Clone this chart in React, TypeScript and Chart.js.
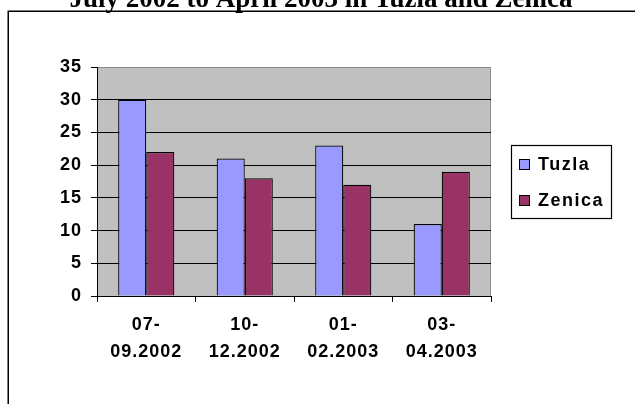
import React, { useEffect, useRef } from "react";
import { Chart, registerables } from "chart.js";

Chart.register(...registerables);

const titleText = "July 2002 to April 2003 in Tuzla and Zenica";
const categories = [
  ["07-", "09.2002"],
  ["10-", "12.2002"],
  ["01-", "02.2003"],
  ["03-", "04.2003"],
];
const seriesNames = ["Tuzla", "Zenica"];
const tuzlaValues = [30, 21, 23, 11];
const zenicaValues = [22, 18, 17, 19];
const seriesColors = ["#9999FF", "#993366"];
const yMin = 0;
const yMax = 35;
const yStep = 5;

const SANS = '"Liberation Sans", Arial, sans-serif';
const SERIF = '"Liberation Serif", "Times New Roman", serif';

const decorPlugin = {
  id: "decor",
  beforeDraw(chart: any) {
    const { ctx, chartArea: a } = chart;
    ctx.save();
    ctx.fillStyle = "#ffffff";
    ctx.fillRect(0, 0, chart.width, chart.height);
    // outer frame
    ctx.strokeStyle = "#000";
    ctx.lineWidth = 1.5;
    ctx.strokeRect(8.25, 11.25, 1000, 1000);
    // title
    ctx.fillStyle = "#000";
    ctx.font = `bold 27px ${SERIF}`;
    ctx.textAlign = "center";
    ctx.textBaseline = "alphabetic";
    ctx.fillText(titleText, 321, 7);
    // plot background
    ctx.fillStyle = "#C0C0C0";
    ctx.fillRect(a.left, a.top, a.right - a.left, a.bottom - a.top);
    ctx.strokeStyle = "#8c8c8c";
    ctx.lineWidth = 1;
    ctx.beginPath();
    ctx.moveTo(a.left, a.top + 0.5);
    ctx.lineTo(a.right - 0.5, a.top + 0.5);
    ctx.lineTo(a.right - 0.5, a.bottom);
    ctx.stroke();
    ctx.restore();
    ctx.letterSpacing = "1px";
  },
  afterDraw(chart: any) {
    const { ctx } = chart;
    ctx.save();
    ctx.fillStyle = "#fff";
    ctx.fillRect(511, 145, 100, 74);
    ctx.strokeStyle = "#000";
    ctx.lineWidth = 1.2;
    ctx.strokeRect(511.5, 145.5, 100, 73);
    const rows = [164, 200];
    ctx.font = `bold 18px ${SANS}`;
    ctx.letterSpacing = "1.5px";
    ctx.textAlign = "left";
    ctx.textBaseline = "middle";
    seriesNames.forEach((name, i) => {
      const y = rows[i];
      ctx.fillStyle = seriesColors[i];
      ctx.fillRect(519, y - 5, 11, 11);
      ctx.strokeStyle = "#000";
      ctx.lineWidth = 1;
      ctx.strokeRect(519.5, y - 4.5, 10, 10);
      ctx.fillStyle = "#000";
      ctx.fillText(name, 538, y + 1.5);
    });
    ctx.restore();
  },
};

export default function App() {
  const ref = useRef<HTMLCanvasElement>(null);
  useEffect(() => {
    const canvas = ref.current!;
    const chart = new Chart(canvas, {
      type: "bar",
      data: {
        labels: categories,
        datasets: [
          {
            label: seriesNames[0],
            data: tuzlaValues,
            backgroundColor: seriesColors[0],
            borderColor: "#000",
            borderWidth: 1.2,
            categoryPercentage: 0.57,
            barPercentage: 1,
          },
          {
            label: seriesNames[1],
            data: zenicaValues,
            backgroundColor: seriesColors[1],
            borderColor: "#000",
            borderWidth: 1.2,
            categoryPercentage: 0.57,
            barPercentage: 1,
          },
        ],
      },
      options: {
        responsive: false,
        animation: false,
        devicePixelRatio: 1,
        layout: { padding: { top: 67, right: 144, bottom: 0, left: 0 } },
        plugins: {
          legend: { display: false },
          title: { display: false },
          tooltip: { enabled: false },
        },
        scales: {
          x: {
            afterFit: (s: any) => {
              s.height = 108;
            },
            grid: {
              offset: true,
              drawOnChartArea: false,
              color: "#000",
              tickLength: 6,
            },
            border: { color: "#000", width: 1 },
            ticks: {
              color: "#000",
              padding: 10,
              maxRotation: 0,
              font: { family: SANS, size: 18, weight: "bold", lineHeight: 1.5 },
            },
          },
          y: {
            min: yMin,
            max: yMax,
            afterFit: (s: any) => {
              s.width = 97;
            },
            grid: {
              color: (c: any) => (c.tick && c.tick.value === yMax ? "#8c8c8c" : "#000"),
              tickColor: "#000",
              tickLength: 6,
            },
            border: { color: "#000", width: 1 },
            ticks: {
              stepSize: yStep,
              color: "#000",
              padding: 9,
              font: { family: SANS, size: 18, weight: "bold" },
            },
          },
        },
      },
      plugins: [decorPlugin],
    } as any);
    return () => chart.destroy();
  }, []);
  return (
    <div style={{ position: "absolute", left: 0, top: 0, width: 635, height: 404 }}>
      <canvas ref={ref} width={635} height={404} style={{ display: "block" }} />
    </div>
  );
}
